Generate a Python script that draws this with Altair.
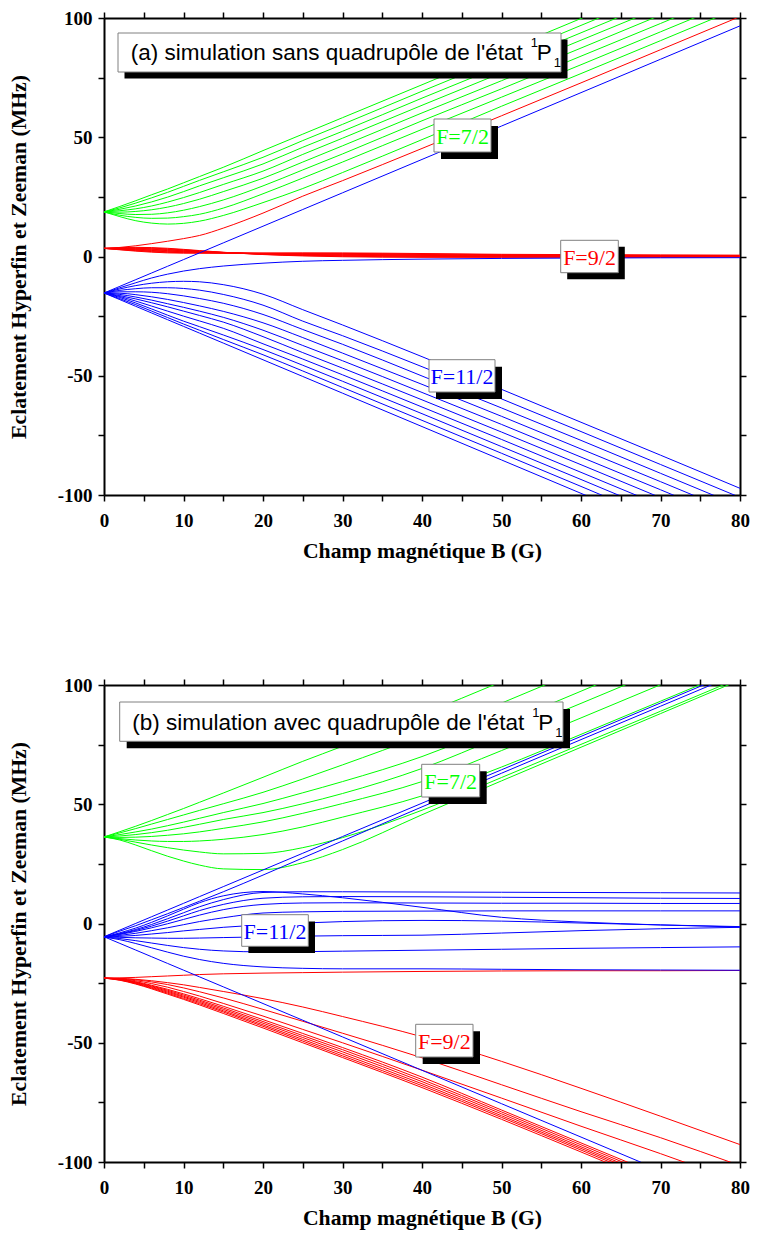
import altair as alt
import pandas as pd

# Magnetic field samples (G)
B_FIELD = [0, 2, 4, 6, 8, 10, 12, 15, 20, 25, 30, 40, 50, 60, 70, 80]

# ---------------- Panel (a): without quadrupole ----------------
A_GREEN = [
    [18.7, 16.7, 15.0, 14.0, 13.6, 13.9, 14.8, 17.2, 22.6, 28.5, 35.2, 49.0, 63.0, 76.7, 90.5, 104.4],
    [18.7, 17.3, 16.4, 16.0, 16.1, 16.7, 17.7, 20.3, 26.3, 32.9, 39.6, 53.3, 66.8, 80.4, 94.2, 108.0],
    [18.7, 18.0, 17.6, 17.7, 18.3, 19.4, 20.9, 23.7, 29.6, 36.3, 43.0, 56.9, 70.3, 84.0, 97.7, 111.6],
    [18.7, 18.6, 18.9, 19.6, 20.7, 22.2, 24.0, 27.2, 32.8, 39.6, 46.4, 60.2, 73.7, 87.4, 101.2, 115.0],
    [18.7, 19.2, 20.0, 21.2, 22.8, 24.7, 26.8, 30.2, 35.8, 42.8, 49.6, 63.4, 77.0, 90.7, 104.4, 118.3],
    [18.7, 19.8, 21.2, 22.9, 24.9, 27.2, 29.6, 33.0, 38.8, 45.8, 52.5, 66.4, 80.0, 93.8, 107.6, 121.5],
    [18.7, 20.4, 22.4, 24.6, 26.9, 29.4, 31.9, 35.5, 41.6, 48.6, 55.4, 69.3, 83.0, 96.9, 110.7, 124.6],
    [18.7, 21.0, 23.4, 25.9, 28.3, 30.9, 33.5, 37.4, 44.4, 51.3, 58.2, 72.0, 85.9, 99.8, 113.8, 127.7],
]
A_RED = [
    [3.4, 3.8, 4.5, 5.4, 6.4, 7.5, 8.8, 11.9, 18.2, 25.3, 31.8, 45.3, 59.0, 72.8, 86.7, 100.6],
    [3.4, 3.69, 3.85, 3.74, 3.44, 3.0, 2.49, 1.78, 0.82, 0.24, -0.1, -0.35, -0.36, -0.34, -0.32, -0.25],
    [3.4, 3.58, 3.65, 3.5, 3.2, 2.8, 2.35, 1.73, 0.9, 0.4, 0.1, -0.15, -0.2, -0.2, -0.2, -0.15],
    [3.4, 3.47, 3.45, 3.26, 2.96, 2.6, 2.21, 1.68, 0.98, 0.56, 0.3, 0.05, -0.04, -0.06, -0.08, -0.05],
    [3.4, 3.36, 3.25, 3.02, 2.72, 2.4, 2.07, 1.63, 1.06, 0.72, 0.5, 0.25, 0.12, 0.08, 0.04, 0.05],
    [3.4, 3.25, 3.05, 2.78, 2.48, 2.2, 1.93, 1.58, 1.14, 0.88, 0.7, 0.45, 0.28, 0.22, 0.16, 0.15],
    [3.4, 3.14, 2.85, 2.54, 2.24, 2.0, 1.79, 1.53, 1.22, 1.04, 0.9, 0.65, 0.44, 0.36, 0.28, 0.25],
    [3.4, 3.03, 2.65, 2.3, 2.0, 1.8, 1.65, 1.48, 1.3, 1.2, 1.1, 0.85, 0.6, 0.5, 0.4, 0.35],
    [3.4, 2.92, 2.45, 2.06, 1.76, 1.6, 1.51, 1.43, 1.38, 1.36, 1.3, 1.05, 0.76, 0.64, 0.52, 0.45],
    [3.4, 2.81, 2.25, 1.82, 1.52, 1.4, 1.37, 1.38, 1.46, 1.52, 1.5, 1.25, 0.92, 0.78, 0.64, 0.55],
]
A_BLUE = [
    [-15.3, -12.5, -9.7, -6.9, -4.1, -1.3, 1.5, 5.7, 12.7, 19.7, 26.7, 40.7, 54.7, 68.7, 82.7, 96.7],
    [-15.3, -13.1, -11.0, -9.0, -7.4, -6.1, -5.1, -4.0, -2.8, -2.0, -1.6, -1.1, -0.8, -0.65, -0.55, -0.5],
    [-15.3, -13.6, -12.2, -11.2, -10.6, -10.4, -10.6, -11.8, -15.8, -22.3, -28.7, -42.0, -55.7, -69.5, -83.3, -97.2],
    [-15.3, -14.2, -13.5, -13.1, -13.1, -13.4, -14.1, -15.9, -20.4, -27.1, -33.2, -46.2, -59.7, -73.4, -87.2, -101.0],
    [-15.3, -14.8, -14.8, -15.0, -15.6, -16.5, -17.6, -19.6, -24.3, -30.6, -36.8, -50.1, -63.5, -77.1, -90.9, -104.7],
    [-15.3, -15.4, -16.0, -16.9, -18.0, -19.3, -20.7, -23.0, -27.8, -34.0, -40.5, -53.6, -67.0, -80.7, -94.4, -108.2],
    [-15.3, -15.9, -17.0, -18.3, -19.8, -21.3, -22.9, -25.5, -30.9, -37.3, -43.7, -57.0, -70.4, -84.1, -97.8, -111.6],
    [-15.3, -16.4, -17.8, -19.4, -21.1, -22.9, -24.7, -27.5, -33.6, -40.3, -46.8, -60.1, -73.6, -87.3, -101.1, -114.9],
    [-15.3, -16.8, -18.7, -20.8, -22.9, -25.0, -27.0, -30.1, -36.6, -43.0, -49.6, -63.1, -76.7, -90.5, -104.3, -118.1],
    [-15.3, -17.2, -19.5, -22.0, -24.6, -27.1, -29.4, -32.9, -39.0, -45.6, -52.3, -65.9, -79.7, -93.5, -107.4, -121.3],
    [-15.3, -17.7, -20.2, -22.9, -25.6, -28.3, -30.9, -34.8, -41.2, -48.0, -54.9, -68.7, -82.5, -96.4, -110.4, -124.3],
    [-15.3, -18.1, -20.9, -23.7, -26.5, -29.3, -32.1, -36.3, -43.3, -50.3, -57.3, -71.3, -85.3, -99.3, -113.3, -127.3],
]

# ---------------- Panel (b): with quadrupole ----------------
B_GREEN = [
    [36.3, 35.0, 32.9, 30.5, 28.2, 26.2, 24.5, 22.9, 22.6, 25.5, 31.0, 45.6, 59.8, 73.9, 88.0, 102.1],
    [36.3, 35.3, 34.1, 32.9, 31.8, 30.8, 30.0, 29.2, 29.4, 31.8, 36.0, 47.5, 61.2, 75.1, 89.0, 103.0],
    [36.3, 35.6, 35.0, 34.6, 34.4, 34.4, 34.6, 35.3, 37.3, 40.5, 44.6, 53.5, 65.6, 79.3, 93.2, 107.1],
    [36.3, 36.1, 36.2, 36.5, 37.0, 37.6, 38.4, 39.9, 42.6, 46.2, 50.3, 59.5, 72.5, 86.2, 100.1, 114.0],
    [36.3, 36.7, 37.3, 38.1, 39.1, 40.3, 41.6, 43.6, 46.5, 50.2, 54.5, 65.0, 78.5, 92.3, 106.2, 120.2],
    [36.3, 37.3, 38.4, 39.6, 41.0, 42.5, 44.1, 46.5, 50.3, 54.8, 59.5, 70.0, 83.5, 97.4, 111.4, 125.4],
    [36.3, 38.0, 39.8, 41.7, 43.6, 45.5, 47.4, 50.2, 55.0, 60.6, 66.5, 78.8, 92.4, 106.4, 120.4, 134.4],
    [36.3, 38.5, 40.8, 43.2, 45.7, 48.2, 50.8, 54.7, 61.3, 68.0, 74.3, 87.6, 101.4, 115.4, 129.4, 143.4],
]
B_RED = [
    [-22.9, -22.8, -22.6, -22.3, -22.0, -21.7, -21.4, -21.1, -20.8, -20.6, -20.4, -20.1, -19.9, -19.8, -19.8, -19.7],
    [-22.9, -23.0, -23.4, -24.0, -24.8, -25.7, -26.8, -28.5, -31.5, -35.0, -39.0, -47.5, -57.8, -69.1, -80.8, -92.7],
    [-22.9, -23.1, -23.6, -24.5, -25.6, -27.0, -28.6, -31.2, -36.0, -41.0, -46.0, -56.3, -67.6, -78.9, -89.8, -101.5],
    [-22.9, -23.2, -24.0, -25.2, -26.7, -28.5, -30.4, -33.5, -38.8, -44.4, -50.0, -61.5, -73.2, -85.0, -96.5, -108.5],
    [-22.9, -23.3, -24.4, -25.9, -27.6, -29.5, -31.5, -34.7, -40.3, -46.1, -52.0, -64.4, -78.2, -92.0, -105.8, -119.6],
    [-22.9, -23.4, -24.6, -26.2, -28.0, -30.0, -32.1, -35.4, -41.1, -47.0, -52.9, -65.4, -79.0, -92.8, -106.6, -120.4],
    [-22.9, -23.5, -24.8, -26.5, -28.4, -30.5, -32.6, -36.0, -41.8, -47.8, -53.8, -66.3, -79.8, -93.6, -107.4, -121.2],
    [-22.9, -23.6, -25.0, -26.8, -28.8, -30.9, -33.1, -36.6, -42.5, -48.6, -54.7, -67.2, -80.6, -94.3, -108.1, -121.9],
    [-22.9, -23.7, -25.2, -27.1, -29.2, -31.4, -33.6, -37.1, -43.1, -49.3, -55.5, -68.0, -81.3, -95.0, -108.8, -122.6],
    [-22.9, -23.8, -25.4, -27.4, -29.6, -31.8, -34.1, -37.7, -43.8, -50.0, -56.2, -68.8, -82.1, -95.8, -109.6, -123.4],
]
B_BLUE = [
    [-5.55, -2.75, 0.05, 2.85, 5.65, 8.45, 11.25, 15.45, 22.45, 29.45, 36.45, 50.45, 64.45, 78.45, 92.45, 106.45],
    [-5.55, -3.2, -0.9, 1.6, 4.1, 6.7, 9.3, 13.3, 20.3, 27.5, 34.6, 48.9, 63.0, 77.1, 91.1, 105.1],
    [-5.7, -3.9, -1.9, 0.5, 3.2, 6.0, 8.7, 11.6, 13.4, 12.4, 10.8, 6.8, 2.6, 0.6, -0.6, -1.5],
    [-5.7, -4.2, -2.5, -0.4, 2.0, 4.5, 7.0, 10.0, 13.0, 13.3, 13.3, 13.2, 13.1, 13.0, 12.9, 12.8],
    [-5.7, -4.4, -2.9, -1.1, 1.0, 3.2, 5.4, 8.0, 10.6, 11.2, 11.3, 11.2, 11.0, 10.8, 10.6, 10.5],
    [-5.7, -4.6, -3.3, -1.8, -0.1, 1.7, 3.5, 5.8, 8.0, 8.6, 8.7, 8.6, 8.5, 8.5, 8.4, 8.4],
    [-5.7, -5.0, -4.1, -3.0, -1.8, -0.5, 0.8, 2.4, 4.4, 4.9, 5.1, 5.2, 5.3, 5.3, 5.3, 5.3],
    [-5.7, -5.4, -5.0, -4.4, -3.8, -3.1, -2.5, -1.6, -0.6, 0.2, 0.8, 1.3, 1.0, 0.2, -0.6, -1.3],
    [-5.7, -5.8, -6.0, -6.1, -6.2, -6.2, -6.1, -5.9, -5.6, -5.3, -5.1, -4.9, -4.0, -3.0, -2.2, -1.6],
    [-5.7, -6.3, -7.2, -8.2, -9.2, -10.1, -10.8, -11.5, -11.9, -11.8, -11.6, -11.2, -10.8, -10.4, -10.1, -9.8],
    [-5.7, -6.8, -8.4, -10.2, -12.0, -13.7, -15.1, -16.7, -18.2, -18.8, -19.0, -19.0, -19.2, -19.4, -19.5, -19.6],
    [-5.55, -8.35, -11.15, -13.95, -16.75, -19.55, -22.35, -26.55, -33.55, -40.55, -47.55, -61.55, -75.55, -89.55, -103.55, -117.55],
]

COLORS = {"green": "#00ff00", "red": "#ff0000", "blue": "#0000ff"}

W, H = 636, 477
SERIF = "Liberation Serif"
SANS = "Liberation Sans"


def long_frame(groups):
    rows = []
    for name, curves in groups:
        for i, ys in enumerate(curves):
            for b, e in zip(B_FIELD, ys):
                rows.append({"B": b, "E": e, "curve": f"{name}{i}", "col": COLORS[name]})
    return pd.DataFrame(rows)


xs = alt.Scale(domain=[0, 80], nice=False, zero=False)
ys = alt.Scale(domain=[-100, 100], nice=False, zero=False)
X_VALUES = list(range(0, 81, 5))
Y_VALUES = list(range(-100, 101, 25))

common_axis = dict(
    domainColor="black", domainWidth=2, tickColor="black", tickWidth=1.5,
    tickSize=6, grid=False, labelFont=SERIF, labelFontWeight="bold",
    labelFontSize=19, labelColor="black", titleFont=SERIF,
    titleFontWeight="bold", titleFontSize=21.7, titleColor="black",
)

x_bottom = alt.Axis(orient="bottom", values=X_VALUES,
                    labelExpr="datum.value % 10 === 0 ? '' + datum.value : ''",
                    title="Champ magnétique B (G)", labelPadding=10, titlePadding=10,
                    labelFlush=False, **common_axis)
y_left = alt.Axis(orient="left", values=Y_VALUES,
                  labelExpr="datum.value % 50 === 0 ? '' + datum.value : ''",
                  title="Eclatement Hyperfin et Zeeman (MHz)", labelPadding=6,
                  titlePadding=26.5, labelFlush=False, **common_axis)
x_top = alt.Axis(orient="top", values=X_VALUES, labels=False, title=None, **common_axis)
y_right = alt.Axis(orient="right", values=Y_VALUES, labels=False, title=None, **common_axis)

ONE = pd.DataFrame({"k": [0]})


def box(x0, y0, x1, y1, dx, dy):
    shadow = alt.Chart(ONE).mark_rect(color="black").encode(
        x=alt.value(x0 + dx), x2=alt.value(x1 + dx), y=alt.value(y0 + dy), y2=alt.value(y1 + dy))
    face = alt.Chart(ONE).mark_rect(fill="white", stroke="#808080", strokeWidth=1).encode(
        x=alt.value(x0), x2=alt.value(x1), y=alt.value(y0), y2=alt.value(y1))
    return [shadow, face]


def text(t, x, y, size, font, color="black", align="left", baseline="alphabetic"):
    return alt.Chart(ONE).mark_text(text=t, font=font, fontSize=size, color=color,
                                    align=align, baseline=baseline).encode(
        x=alt.value(x), y=alt.value(y))


def title_box(label, x0, y0, x1, y1, d, tx, ty):
    layers = box(x0, y0, x1, y1, d, d)
    layers.append(text(label, tx, ty, 22.5, SANS))
    layers.append(text("1", tx + 400, ty - 13, 13, SANS))
    layers.append(text("P", tx + 406, ty, 22.5, SANS))
    layers.append(text("1", tx + 423, ty + 7, 13, SANS))
    return layers


def f_label(label, color, x0, y0, x1, y1, d):
    layers = box(x0, y0, x1, y1, d, d)
    layers.append(text(label, (x0 + x1) / 2, (y0 + y1) / 2 + 1, 22, SERIF, color,
                       align="center", baseline="middle"))
    return layers


def panel(groups, annotations):
    df = long_frame(groups)
    lines = alt.Chart(df).mark_line(clip=True, strokeWidth=1, interpolate="monotone").encode(
        x=alt.X("B:Q", scale=xs, axis=x_bottom),
        y=alt.Y("E:Q", scale=ys, axis=y_left),
        detail="curve:N",
        color=alt.Color("col:N", scale=None),
    )
    mirror = alt.Chart(df).mark_point(opacity=0, size=1, clip=True).encode(
        x=alt.X("B:Q", scale=xs, axis=x_top),
        y=alt.Y("E:Q", scale=ys, axis=y_right),
    )
    return alt.layer(lines, mirror, *annotations).resolve_axis(
        x="independent", y="independent").properties(width=W, height=H)


top_ann = (
    title_box("(a) simulation sans quadrupôle de l'état", 14, 15, 457, 54, 6.5, 26.7, 42.3)
    + f_label("F=7/2", COLORS["green"], 330, 101, 387, 134, 7)
    + f_label("F=9/2", COLORS["red"], 456.7, 222.3, 514.3, 254.7, 6.5)
    + f_label("F=11/2", COLORS["blue"], 325, 341.7, 391, 374, 7)
)
bot_ann = (
    title_box("(b) simulation avec quadrupôle de l'état", 15.7, 17, 459, 56.3, 7, 28.3, 44.7)
    + f_label("F=7/2", COLORS["green"], 317.7, 79.3, 375.7, 112, 7)
    + f_label("F=11/2", COLORS["blue"], 137.7, 229.7, 204.3, 261.3, 6.7)
    + f_label("F=9/2", COLORS["red"], 311.7, 339.3, 369, 372, 7)
)

top = panel([("green", A_GREEN), ("red", A_RED), ("blue", A_BLUE)], top_ann)
bottom = panel([("green", B_GREEN), ("red", B_RED), ("blue", B_BLUE)], bot_ann)

chart = alt.vconcat(top, bottom, spacing=112).properties(
    padding={"left": 0, "top": 0, "right": 0, "bottom": 0}
).configure_view(stroke=None).configure(background="white")

chart.save("out.html", embed_options={"renderer": "svg", "actions": False})
